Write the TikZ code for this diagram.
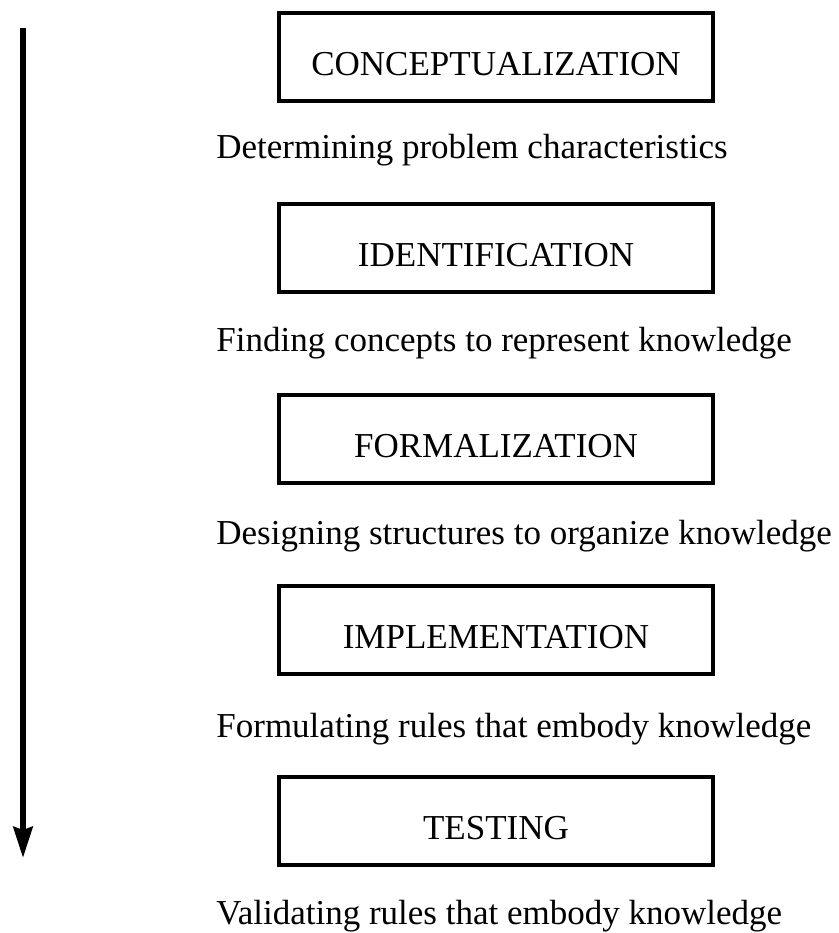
\documentclass[tikz,border=0pt]{standalone}
\usepackage{fontspec}
\setmainfont{Liberation Serif}
\usetikzlibrary{arrows.meta}

\begin{document}
\begin{tikzpicture}[>=Stealth, line cap=round, x=0.5pt, y=-0.5pt,
	stagebox/.style={draw, line width=1.6pt, line cap=butt, minimum width=217pt, minimum height=44pt,
		inner sep=0pt, text height=18.4pt, text depth=0pt},
	stagedesc/.style={anchor=base west, inner sep=0pt}]
	% -------- Tunables --------
	\def\boxgap{191}     % vertical spacing of the boxes (px)
	\def\descgap{193}    % vertical spacing of the descriptions (px)
	\fontsize{17.5}{21}\selectfont
	
	% Frame of the picture
	\useasboundingbox (0,0) rectangle (839,933);
	
	% -------- Stages and their descriptions --------
	\foreach \stage/\desc [count=\i from 0] in {
		CONCEPTUALIZATION/Determining problem characteristics,
		IDENTIFICATION/Finding concepts to represent knowledge,
		FORMALIZATION/Designing structures to organize knowledge,
		IMPLEMENTATION/Formulating rules that embody knowledge,
		TESTING/Validating rules that embody knowledge}{
		\pgfmathsetmacro{\Yb}{57+\i*\boxgap}
		\pgfmathsetmacro{\Yd}{min(158+\i*\descgap,924)} % keep the last line inside the frame
		\node[stagebox] (box\i) at (496,\Yb) {\stage};
		\node[stagedesc] (desc\i) at (216,\Yd) {\desc};
	}
	
	% -------- Direction of the process --------
	\coordinate (flowstart) at (23,28);
	\coordinate (flowend) at (23,858);
	\draw[-{Stealth[length=15.5pt, width=9.5pt, inset=1.5pt]}, line width=3pt, line cap=butt]
		(flowstart) -- (flowend);
	
\end{tikzpicture}
\end{document}
